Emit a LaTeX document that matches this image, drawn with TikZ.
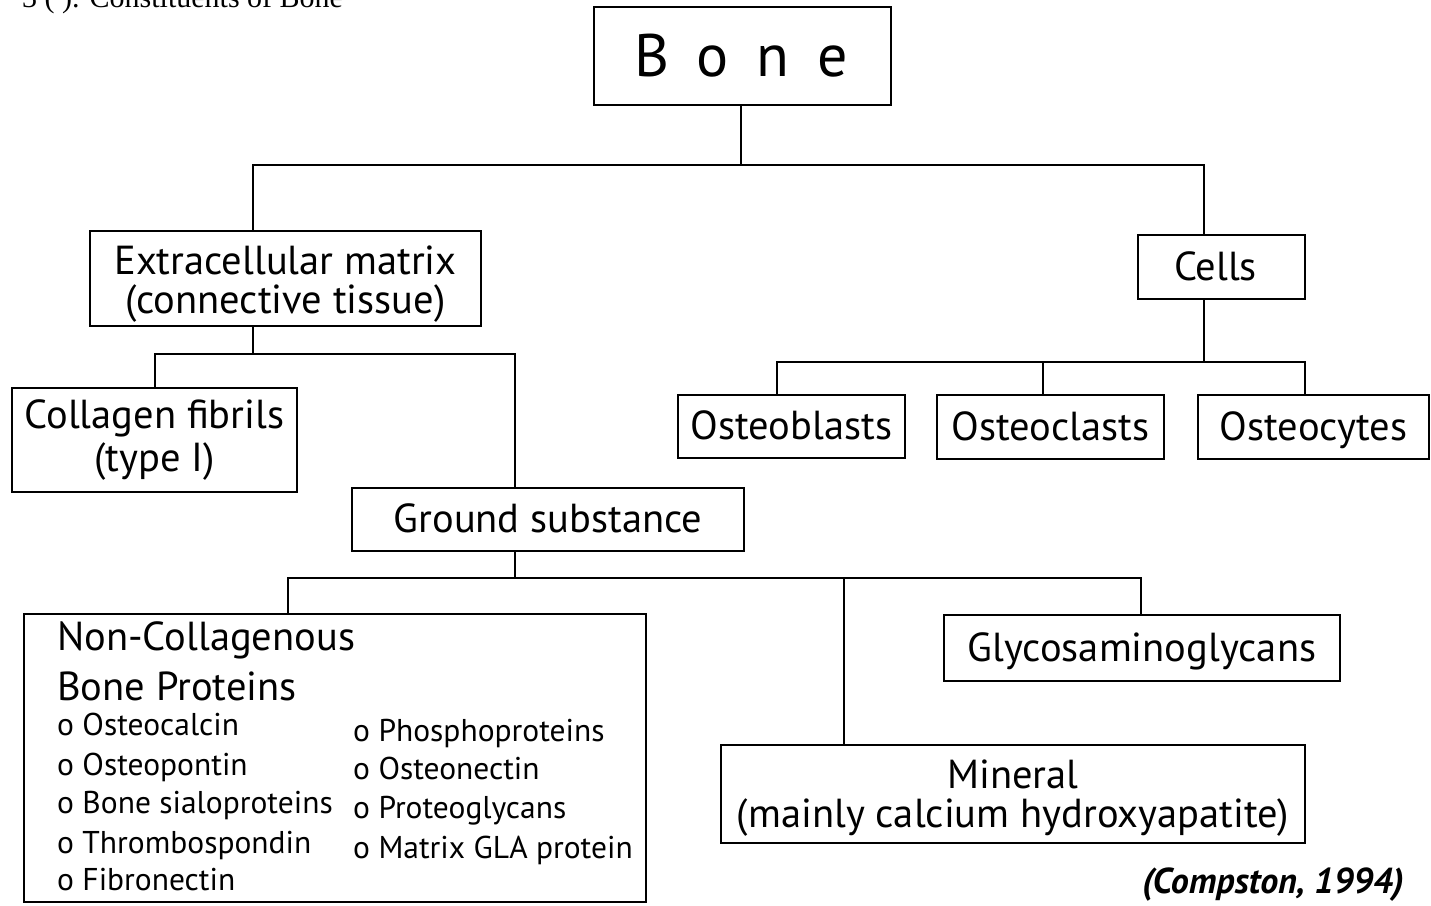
\documentclass[tikz,border=0pt]{standalone}
\usepackage{fontspec}
\setmainfont{PT Sans}
\newfontfamily\titlefont{Liberation Serif}
\begin{document}
\begin{tikzpicture}[x=1pt,y=-1pt,
  box/.style={draw, line width=2pt, inner sep=0pt, align=center},
  wire/.style={line width=2pt},
  big/.style={font=\fontsize{40.5}{39}\selectfont},
  one/.style={text height=31pt, text depth=5pt},
  item/.style={anchor=base west, inner sep=0pt, font=\fontsize{31.5}{32}\selectfont}]
\useasboundingbox (0,0) rectangle (1431,905);
\node[anchor=base west, inner sep=0pt, font=\titlefont\fontsize{30}{30}\selectfont] (title) at (22,7) {3 ( ). Constituents of Bone};

% boxes
\node[box, minimum width=297pt, minimum height=98pt, font=\fontsize{60}{60}\selectfont] (bone) at (742.5,56)
  {\makebox[60pt]{B}\makebox[60pt]{o}\makebox[60pt]{n}\makebox[60pt]{e}};
\node[box, minimum width=391pt, minimum height=95pt,
  label={[big, align=center, yshift=-6pt]center:{Extracellular matrix\\(connective tissue)}}] (ecm) at (285.5,278.5) {};
\node[box, big, one, minimum width=167pt, minimum height=64pt] (cells) at (1221.5,267) {\hspace{-12pt}Cells};
\node[box, big, one, minimum width=227pt, minimum height=63pt] (oblast) at (791.5,426.5) {Osteoblasts};
\node[box, big, one, minimum width=227pt, minimum height=64pt] (oclast) at (1050.5,427) {Osteoclasts};
\node[box, big, one, minimum width=231pt, minimum height=64pt] (ocyte) at (1313.5,427) {Osteocytes};
\node[box, big, minimum width=285pt, minimum height=104pt] (coll) at (154.5,440)
  {Collagen fibrils\\[4pt](type I)};
\node[box, big, one, minimum width=392pt, minimum height=63pt] (ground) at (548,519.5) {Ground substance};
\node[box, minimum width=622pt, minimum height=288pt] (ncbp) at (335,758) {};
\node[box, big, one, minimum width=396pt, minimum height=66pt] (glyco) at (1142,648) {Glycosaminoglycans};
\node[box, minimum width=584pt, minimum height=98pt,
  label={[big, align=center, yshift=-4pt]center:{Mineral\\(mainly calcium hydroxyapatite)}}] (mineral) at (1013,794) {};

% NCBP contents
\node[anchor=base west, inner sep=0pt, big] (nch1) at (57,650) {Non-Collagenous};
\node[anchor=base west, inner sep=0pt, big] (nch2) at (57,700) {Bone Proteins};
\node[item] (i1) at (57,735) {o Osteocalcin};
\node[item] (i2) at (57,775) {o Osteopontin};
\node[item] (i3) at (57,813) {o Bone sialoproteins};
\node[item] (i4) at (57,853) {o Thrombospondin};
\node[item] (i5) at (57,890) {o Fibronectin};
\node[item] (j1) at (353,741) {o Phosphoproteins};
\node[item] (j2) at (353,779) {o Osteonectin};
\node[item] (j3) at (353,818) {o Proteoglycans};
\node[item] (j4) at (353,858) {o Matrix GLA protein};

\node[anchor=base east, inner sep=0pt, font=\fontsize{36}{36}\selectfont\bfseries\itshape] (cite) at (1404,893) {(Compston, 1994)};

% connectors
\coordinate (b0) at (741,165);
\coordinate (bl) at (253,165);
\coordinate (br) at (1204,165);
\draw[wire] (bone.south -| b0) -- (b0);
\draw[wire] (bl |- ecm.north) -- (bl) -- (br) -- (br |- cells.north);

\coordinate (c0) at (1204,362);
\coordinate (cl) at (777,362);
\coordinate (cm) at (1043,362);
\coordinate (cr) at (1305,362);
\draw[wire] (c0 |- cells.south) -- (c0);
\draw[wire] (cl |- oblast.north) -- (cl) -- (cr) -- (cr |- ocyte.north);
\draw[wire] (cm) -- (cm |- oclast.north);

\coordinate (e0) at (253,354);
\coordinate (el) at (155,354);
\coordinate (er) at (515,354);
\draw[wire] (e0 |- ecm.south) -- (e0);
\draw[wire] (el |- coll.north) -- (el) -- (er) -- (er |- ground.north);

\coordinate (g0) at (515,578);
\coordinate (gl) at (288,578);
\coordinate (gm) at (844,578);
\coordinate (gr) at (1141,578);
\draw[wire] (g0 |- ground.south) -- (g0);
\draw[wire] (gl |- ncbp.north) -- (gl) -- (gr) -- (gr |- glyco.north);
\draw[wire] (gm) -- (gm |- mineral.north);
\end{tikzpicture}
\end{document}
